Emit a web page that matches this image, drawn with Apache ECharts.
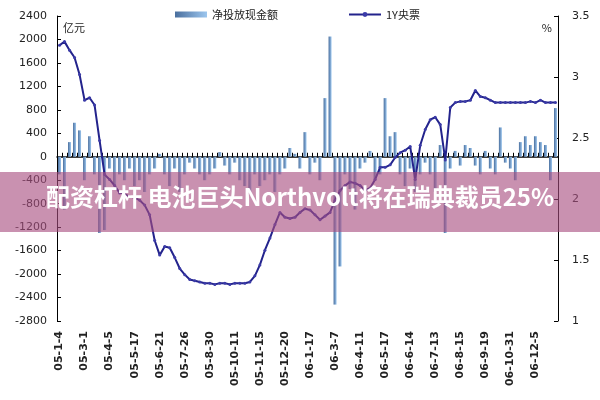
<!DOCTYPE html>
<html><head><meta charset="utf-8">
<script src="https://cdn.jsdelivr.net/npm/echarts@6/dist/echarts.min.js"></script>
<style>html,body{margin:0;padding:0;background:#fff}#c{width:600px;height:400px}</style>
</head><body><div id="c"></div>
<script>
const dateLabels=["05-1-4","05-3-1","05-4-5","05-5-17","05-6-21","05-7-26","05-8-30","05-10-11","05-11-15","05-12-20","06-1-17","06-3-7","06-4-11","06-5-17","06-6-14","06-7-13","06-8-15","06-9-19","06-10-31","06-12-5"];
const netCash=[-300,-900,250,580,450,-400,350,-300,-1300,-1250,
-200,-500,-300,-400,-200,-500,-400,-600,-300,-200,
50,-300,-500,-200,-600,-300,-100,-200,-300,-400,
-300,-200,80,-150,-300,-100,-400,-500,-600,-300,
-500,-400,-300,-600,-300,-200,150,50,-200,420,
-300,-100,-400,1000,2050,-2520,-1870,-300,-550,-900,
-200,-100,100,-400,-300,1000,350,420,-300,-500,
-200,-600,-300,-100,-300,-600,200,-1300,-200,100,
-150,200,150,-150,-300,100,-200,-300,500,-100,
-200,-400,250,350,200,350,250,200,-400,830];
const bill1Y=[3.26,3.29,3.22,3.16,3.02,2.81,2.83,2.77,2.48,2.20,
2.16,2.11,2.05,2.04,2.02,2.01,1.99,1.95,1.87,1.66,
1.54,1.61,1.60,1.52,1.43,1.38,1.34,1.33,1.32,1.31,
1.31,1.30,1.31,1.31,1.30,1.31,1.31,1.31,1.32,1.37,
1.46,1.58,1.68,1.79,1.89,1.85,1.84,1.85,1.89,1.92,
1.91,1.87,1.83,1.86,1.89,1.99,2.07,2.11,2.14,2.13,
2.11,2.07,2.09,2.16,2.26,2.26,2.28,2.34,2.38,2.40,
2.43,2.16,2.44,2.57,2.65,2.67,2.61,2.32,2.75,2.79,
2.80,2.80,2.81,2.89,2.84,2.83,2.81,2.79,2.79,2.79,
2.79,2.79,2.79,2.79,2.80,2.79,2.81,2.79,2.79,2.79];
const cats=netCash.map((v,i)=>i%5===0?dateLabels[i/5]:''+i);
const chart=echarts.init(document.getElementById('c'));
const F='"Noto Sans CJK SC", "DejaVu Sans", sans-serif';
chart.setOption({
 animation:false,
 grid:{left:57,right:42,top:16,bottom:79,outerBoundsMode:'none'},
 legend:{top:4,left:170,itemGap:70,itemWidth:32,itemHeight:6,textStyle:{fontFamily:F,fontSize:11,color:'#222'},
  data:[{name:'净投放现金额',icon:'rect'},{name:'1Y央票'}]},
 xAxis:[{type:'category',data:cats,axisLine:{onZero:false,show:false},axisTick:{show:false},
   axisLabel:{interval:0,rotate:90,fontSize:11,fontWeight:'bold',color:'#222',fontFamily:'DejaVu Sans',margin:10,
    formatter:(v,i)=>i%5===0?v:''}},
  {type:'category',data:cats,position:'bottom',axisLine:{onZero:true,onZeroAxisIndex:0,lineStyle:{color:'#000',width:1.5}},
   axisTick:{show:true,interval:0,length:4,inside:true,lineStyle:{color:'#000'}},axisLabel:{show:false}}],
 yAxis:[{type:'value',min:-2800,max:2400,interval:400,name:'亿元',nameGap:-6,nameLocation:'end',
   nameTextStyle:{fontFamily:F,fontSize:11,color:'#222',align:'left',padding:[0,0,0,6],verticalAlign:'top'},
   axisLine:{show:true,lineStyle:{color:'#000'}},axisTick:{show:true,inside:true,length:4},splitLine:{show:false},
   axisLabel:{fontSize:11,color:'#222',fontFamily:'DejaVu Sans',margin:10,formatter:v=>String(v)}},
  {type:'value',min:1,max:3.5,interval:0.5,name:'%',nameGap:-6,nameLocation:'end',
   nameTextStyle:{fontFamily:F,fontSize:11,color:'#222',align:'right',padding:[0,6,0,0],verticalAlign:'top'},
   axisLine:{show:true,lineStyle:{color:'#000'}},axisTick:{show:true,inside:true,length:4},splitLine:{show:false},
   axisLabel:{fontSize:11,color:'#222',fontFamily:'DejaVu Sans',margin:14,formatter:v=>String(v)}}],
 series:[{name:'净投放现金额',type:'bar',data:netCash,barWidth:3,xAxisIndex:0,yAxisIndex:0,
   itemStyle:{color:new echarts.graphic.LinearGradient(0,0,1,0,[{offset:0,color:'#4a6f9e'},{offset:1,color:'#9cc6ee'}])}},
  {name:'1Y央票',type:'line',data:bill1Y,xAxisIndex:0,yAxisIndex:1,symbol:'circle',symbolSize:3,
   lineStyle:{color:'#23238c',width:2},itemStyle:{color:'#3b3ba8'}}],
 graphic:[{type:'rect',left:0,top:172,shape:{width:600,height:60},style:{fill:'rgba(168,78,128,0.62)'},z:100},
  {type:'text',left:'center',top:185,style:{text:'配资杠杆 电池巨头Northvolt将在瑞典裁员25%',fill:'#fff',font:'bold 24px "Noto Sans CJK SC"'},z:101}]
});
</script></body></html>
